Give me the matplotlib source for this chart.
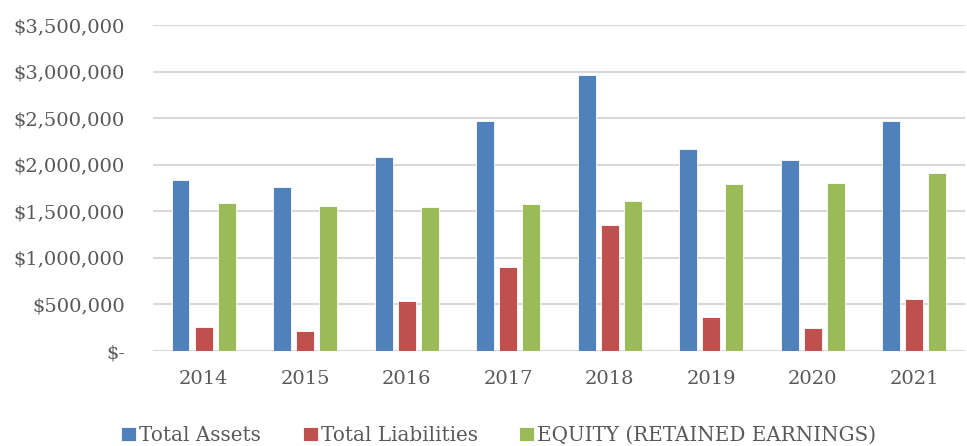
import numpy as np
import matplotlib
matplotlib.use("Agg")
import matplotlib.pyplot as plt
from matplotlib.ticker import FuncFormatter

years = ["2014", "2015", "2016", "2017", "2018", "2019", "2020", "2021"]
total_assets = [1839000, 1763000, 2083000, 2473000, 2965000, 2169000, 2047000, 2467000]
total_liabilities = [255000, 212000, 542000, 897000, 1348000, 370000, 247000, 553000]
equity = [1585000, 1552000, 1542000, 1574000, 1613000, 1796000, 1800000, 1911000]

series_names = ["Total Assets", "Total Liabilities", "EQUITY (RETAINED EARNINGS)"]
colors = ["#4F81BD", "#C0504D", "#9BBB59"]

plt.rcParams['font.family'] = ['DejaVu Serif']

fig = plt.figure(figsize=(9.67, 4.46), dpi=100)
ax = fig.add_axes([0.158, 0.213, 0.840, 0.731])

x = np.arange(len(years))
w = 0.177
off = 0.227
for i, vals in enumerate([total_assets, total_liabilities, equity]):
    ax.bar(x + (i - 1) * off, vals, width=w, color=colors[i], label=series_names[i],
           edgecolor="white", linewidth=0.6, zorder=3)

ax.set_xlim(-0.5, len(years) - 0.5)
ax.set_ylim(0, 3500000)
ax.set_yticks(np.arange(0, 3500001, 500000))

def money(v, pos):
    if v == 0:
        return "$-"
    return "${:,.0f}".format(v)

ax.yaxis.set_major_formatter(FuncFormatter(money))
ax.set_xticks(x)
ax.set_xticklabels(years)

ax.grid(axis="y", color="#D9D9D9", linewidth=1.5, zorder=0)
for s in ax.spines.values():
    s.set_visible(False)
ax.tick_params(axis="both", length=0, labelsize=14, colors="#595959")
ax.tick_params(axis="y", pad=20)
ax.tick_params(axis="x", pad=14)

leg = ax.legend(loc="upper center", bbox_to_anchor=(0.426, -0.175), ncol=3, frameon=False,
                fontsize=14.3, handlelength=0.75, handleheight=0.75, handletextpad=0.15,
                columnspacing=2.1)
for t in leg.get_texts():
    t.set_color("#595959")

fig.savefig("out.png", dpi=100)
